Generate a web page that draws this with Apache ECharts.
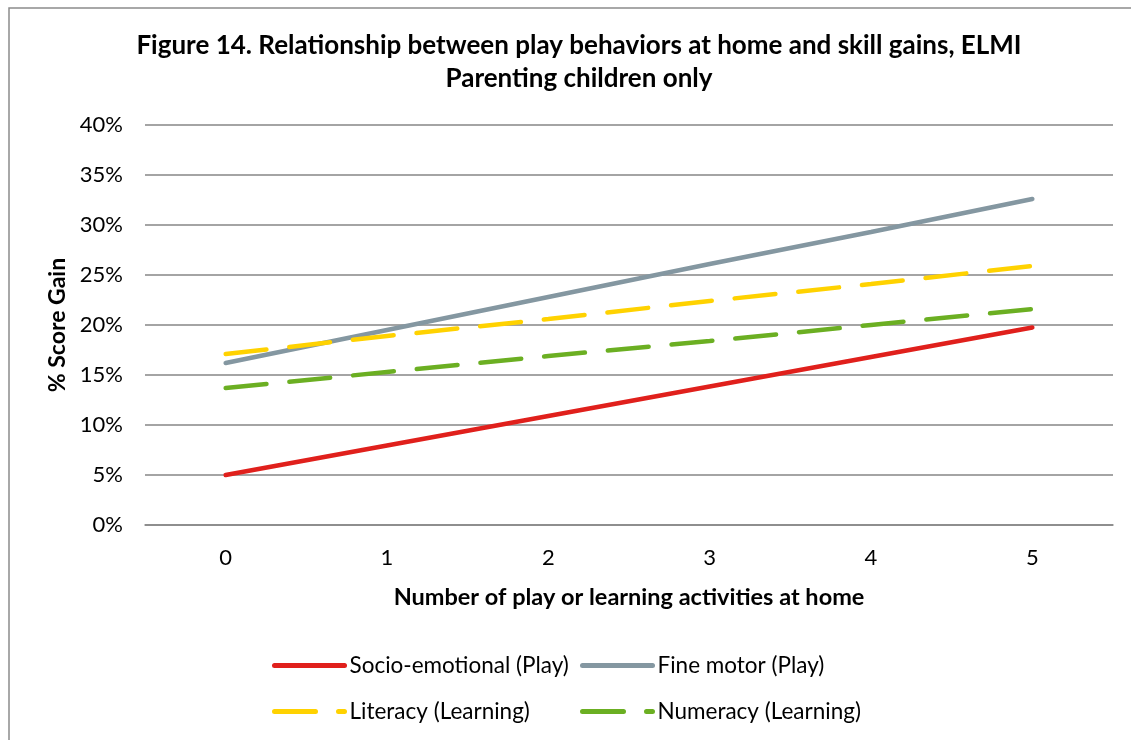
<!DOCTYPE html>
<html>
<head>
<meta charset="utf-8">
<script src="https://cdn.jsdelivr.net/npm/echarts@6/dist/echarts.min.js"></script>
<style>
  html, body { margin: 0; padding: 0; background: #fff; }
  #main { width: 1131px; height: 740px; }
</style>
</head>
<body>
<div id="main"></div>
<script>
const categories = ['0', '1', '2', '3', '4', '5'];
const socioEmotional = [5.0, 7.95, 10.9, 13.85, 16.8, 19.75];
const fineMotor = [16.2, 19.5, 22.8, 26.1, 29.3, 32.6];
const literacy = [17.1, 18.9, 20.6, 22.4, 24.1, 25.9];
const numeracy = [13.7, 15.3, 16.9, 18.4, 20.0, 21.6];

const font = 'Lato, "Open Sans", sans-serif';
const chart = echarts.init(document.getElementById('main'));

function legendAt(name, left, top) {
  return {
    data: [name],
    left: left,
    top: top,
    itemWidth: 70,
    itemHeight: 14,
    itemGap: 0,
    padding: 0,
    itemStyle: { opacity: 0 },
    lineStyle: { width: 5 },
    textStyle: { fontFamily: font, fontSize: 22.5, color: '#000' }
  };
}

function lineSeries(name, data, color, dashed) {
  return {
    name: name,
    type: 'line',
    data: data,
    symbol: 'none',
    lineStyle: {
      color: color,
      width: 4.5,
      cap: 'round',
      type: dashed ? [41, 23] : 'solid'
    },
    itemStyle: { color: color }
  };
}

chart.setOption({
  animation: false,
  title: {
    text: 'Figure 14. Relationship between play behaviors at home and skill gains, ELMI\nParenting children only',
    left: 579,
    top: 29,
    padding: 0,
    textAlign: 'center',
    textStyle: { fontFamily: font, fontSize: 26, fontWeight: 'bold', color: '#000', lineHeight: 33 }
  },
  legend: [
    legendAt('Socio-emotional (Play)', 272, 654),
    legendAt('Fine motor (Play)', 580, 654),
    legendAt('Literacy (Learning)', 272, 700),
    legendAt('Numeracy (Learning)', 580, 700)
  ],
  grid: { left: 145, right: 18, top: 125, bottom: 215 },
  xAxis: {
    type: 'category',
    data: categories,
    boundaryGap: true,
    name: 'Number of play or learning activities at home',
    nameLocation: 'middle',
    nameGap: 60,
    nameTextStyle: { fontFamily: font, fontSize: 23.5, fontWeight: 'bold', color: '#000' },
    axisLine: { lineStyle: { color: '#868686', width: 1.5 } },
    axisTick: { show: false },
    axisLabel: { fontFamily: font, fontSize: 22, color: '#000', margin: 22 }
  },
  yAxis: {
    type: 'value',
    min: 0,
    max: 40,
    interval: 5,
    name: '% Score Gain',
    nameLocation: 'middle',
    nameGap: 75,
    nameTextStyle: { fontFamily: font, fontSize: 23, fontWeight: 'bold', color: '#000' },
    axisLine: { show: false },
    axisTick: { show: false },
    axisLabel: { fontFamily: font, fontSize: 22, color: '#000', margin: 22, formatter: '{value}%' },
    splitLine: { lineStyle: { color: '#868686', width: 1.5 } }
  },
  series: [
    lineSeries('Socio-emotional (Play)', socioEmotional, '#E0201C', false),
    lineSeries('Fine motor (Play)', fineMotor, '#8497A1', false),
    lineSeries('Literacy (Learning)', literacy, '#FFD200', true),
    lineSeries('Numeracy (Learning)', numeracy, '#6BAF22', true)
  ],
  graphic: [{
    type: 'rect',
    shape: { x: 9, y: 8, width: 1140, height: 760 },
    style: { fill: 'none', stroke: '#8c8c8c', lineWidth: 1.5 },
    silent: true
  }]
});
</script>
</body>
</html>
